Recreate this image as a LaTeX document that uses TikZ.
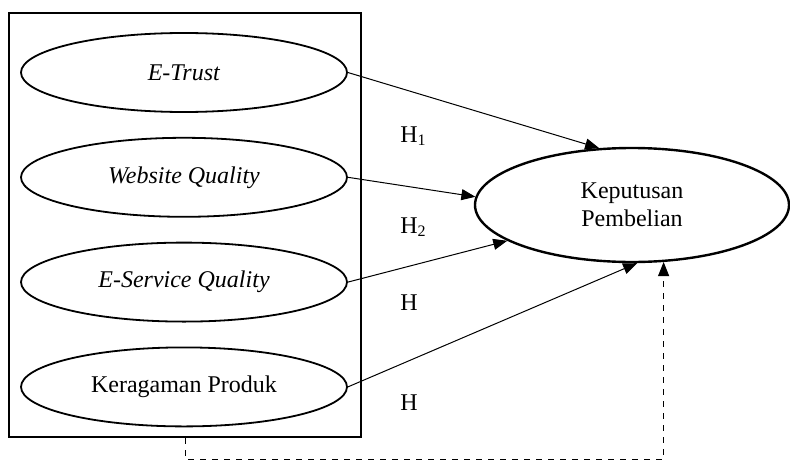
\documentclass[tikz,border=0pt]{standalone}
\usepackage{fontspec}
\setmainfont{Liberation Serif}
\usetikzlibrary{positioning}
\usetikzlibrary{shapes.geometric}
\usetikzlibrary{arrows.meta}

\begin{document}
\begin{tikzpicture}[x=0.5pt, y=-0.5pt,
        var/.style={draw, ellipse, line width=0.9pt, inner sep=0pt, minimum width=163pt, minimum height=39.5pt},
        link/.style={-{Triangle[length=7pt, width=5.5pt]}, line width=0.5pt},
        hyp/.style={anchor=base west}]
        \useasboundingbox (0,0) rectangle (790,460);
        \def\gap{12pt}
        \fontsize{12}{14}\selectfont

        \node [draw, line width=1pt, minimum width=176pt, minimum height=212pt, inner sep=0pt] (box) at (185,225) {};

        \node [var] (et) at (184,72.5) {\textit{E-Trust}};
        \node [var, below=\gap of et] (wq) {\textit{Website Quality}};
        \node [var, below=\gap of wq] (esq) {\textit{E-Service Quality}};
        \node [var, below=\gap of esq] (kp) {Keragaman Produk};

        \node [draw, ellipse, line width=1.2pt, inner sep=0pt, minimum width=157pt, minimum height=57pt, align=center] (kpb) at (632,205) {Keputusan\\Pembelian};

        \draw [link] (et.east) -- (kpb.120);
        \draw [link] (wq.east) -- (kpb.177);
        \draw [link] (esq.east) -- (kpb.196);
        \draw [link] (kp.east) -- (kpb.275);
        \draw [link, dashed] (box.south) -- ++(0,21) -| (kpb.299);

        \node [hyp] (h1) at (392,142) {H\textsubscript{1}};
        \node [hyp] (h2) at (392,233) {H\textsubscript{2}};
        \node [hyp] (h3) at (392,310) {H};
        \node [hyp] (h4) at (392,410) {H};
\end{tikzpicture}
\end{document}
